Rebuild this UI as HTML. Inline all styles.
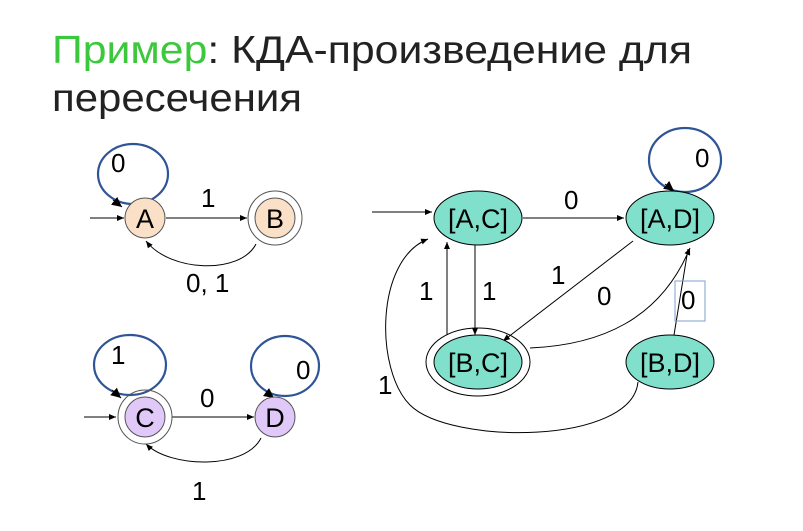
<!DOCTYPE html>
<html><head><meta charset="utf-8"><style>
body{margin:0;width:803px;height:531px;background:#fff;overflow:hidden}
svg{display:block}
text{font-family:"Liberation Sans","DejaVu Sans",sans-serif}
</style></head><body>
<svg width="803" height="531" viewBox="0 0 803 531">
<defs><marker id="ar" markerWidth="8" markerHeight="8" refX="7" refY="4" orient="auto" markerUnits="userSpaceOnUse"><path d="M0,1 L7,4 L0,7z" fill="#000"/></marker>
<marker id="arb" markerWidth="12" markerHeight="12" refX="10" refY="5" orient="auto" markerUnits="userSpaceOnUse"><path d="M0,0 L10,5 L0,10z" fill="#000"/></marker></defs>
<g font-size="39" fill="#222">
<text x="52" y="63" textLength="640" lengthAdjust="spacingAndGlyphs"><tspan fill="#3cc83c">Пример</tspan>: КДА-произведение для</text>
<text x="52" y="111" textLength="250" lengthAdjust="spacingAndGlyphs">пересечения</text></g>

<g stroke="#000" fill="none" stroke-width="1">
<ellipse cx="133" cy="174" rx="35" ry="30" stroke="#2f5597" stroke-width="2.2"/>
<path d="M113,200 L122,207" marker-end="url(#arb)"/>
<line x1="90" y1="218" x2="124" y2="218" marker-end="url(#ar)"/>
<line x1="166" y1="218" x2="247" y2="218" marker-end="url(#ar)"/>
<path d="M256,244 C240,275 170,272 146,241" marker-end="url(#ar)"/>
<circle cx="145" cy="218" r="20" fill="#fbe0c8" stroke="#555"/>
<circle cx="275" cy="218" r="27" stroke="#555"/>
<circle cx="275" cy="218" r="20" fill="#fbe0c8" stroke="#555"/>
</g>
<g font-size="26" fill="#000">
<text x="145" y="228" text-anchor="middle" font-size="27">A</text>
<text x="275" y="228" text-anchor="middle" font-size="27">B</text>
<text x="111" y="172">0</text>
<text x="201" y="207">1</text>
<text x="186" y="292">0, 1</text>
</g>

<g stroke="#000" fill="none" stroke-width="1">
<ellipse cx="130" cy="365" rx="36" ry="30" stroke="#2f5597" stroke-width="2.2"/>
<path d="M112,390 L121,398" marker-end="url(#arb)"/>
<ellipse cx="285" cy="366" rx="34" ry="30" stroke="#2f5597" stroke-width="2.2"/>
<path d="M266,392 L274,398" marker-end="url(#arb)"/>
<line x1="84" y1="417" x2="116" y2="417" marker-end="url(#ar)"/>
<line x1="172" y1="417" x2="254" y2="417" marker-end="url(#ar)"/>
<path d="M261,438 C245,470 170,468 146,444" marker-end="url(#ar)"/>
<circle cx="145" cy="417" r="27" stroke="#555"/>
<circle cx="145" cy="417" r="20" fill="#e0c8f8" stroke="#555"/>
<circle cx="275" cy="417" r="20" fill="#e0c8f8" stroke="#555"/>
</g>
<g font-size="26" fill="#000">
<text x="145" y="427" text-anchor="middle" font-size="27">C</text>
<text x="275" y="427" text-anchor="middle" font-size="27">D</text>
<text x="111" y="364">1</text>
<text x="296" y="379">0</text>
<text x="200" y="407">0</text>
<text x="192" y="500">1</text>
</g>

<g stroke="#000" fill="none" stroke-width="1">
<ellipse cx="685" cy="160" rx="36" ry="32" stroke="#2f5597" stroke-width="2.2"/>
<path d="M665,184 L674,191" marker-end="url(#arb)"/>
<line x1="372" y1="212" x2="432" y2="212" marker-end="url(#ar)"/>
<line x1="523" y1="218" x2="624" y2="218" marker-end="url(#ar)"/>
<line x1="475" y1="245" x2="475" y2="335" marker-end="url(#ar)"/>
<line x1="447" y1="335" x2="447" y2="242" marker-end="url(#ar)"/>
<line x1="633" y1="241" x2="503" y2="341" marker-end="url(#ar)"/>
<path d="M530,348 C600,345 660,320 690,248" marker-end="url(#ar)"/>
<line x1="674" y1="335" x2="688" y2="249" />
<path d="M638,382 C632,445 450,445 410,405 C375,370 375,260 428,239" marker-end="url(#ar)"/>
<rect x="675" y="281" width="30" height="40" stroke="#7f9fd0"/>
<ellipse cx="478" cy="218" rx="44" ry="27" fill="#80e0cc"/>
<ellipse cx="670" cy="218" rx="44" ry="27" fill="#80e0cc"/>
<ellipse cx="478" cy="362" rx="52" ry="34"/>
<ellipse cx="478" cy="362" rx="44" ry="27" fill="#80e0cc"/>
<ellipse cx="670" cy="362" rx="44" ry="27" fill="#80e0cc"/>
</g>
<g font-size="27" fill="#000">
<text x="478" y="228" text-anchor="middle">[A,C]</text>
<text x="670" y="228" text-anchor="middle">[A,D]</text>
<text x="478" y="372" text-anchor="middle">[B,C]</text>
<text x="670" y="372" text-anchor="middle">[B,D]</text>
<g font-size="26">
<text x="695" y="167">0</text>
<text x="564" y="209">0</text>
<text x="419" y="300">1</text>
<text x="482" y="300">1</text>
<text x="551" y="284">1</text>
<text x="597" y="305">0</text>
<text x="681" y="309">0</text>
<text x="378" y="394">1</text>
</g></g>
</svg>
</body></html>
